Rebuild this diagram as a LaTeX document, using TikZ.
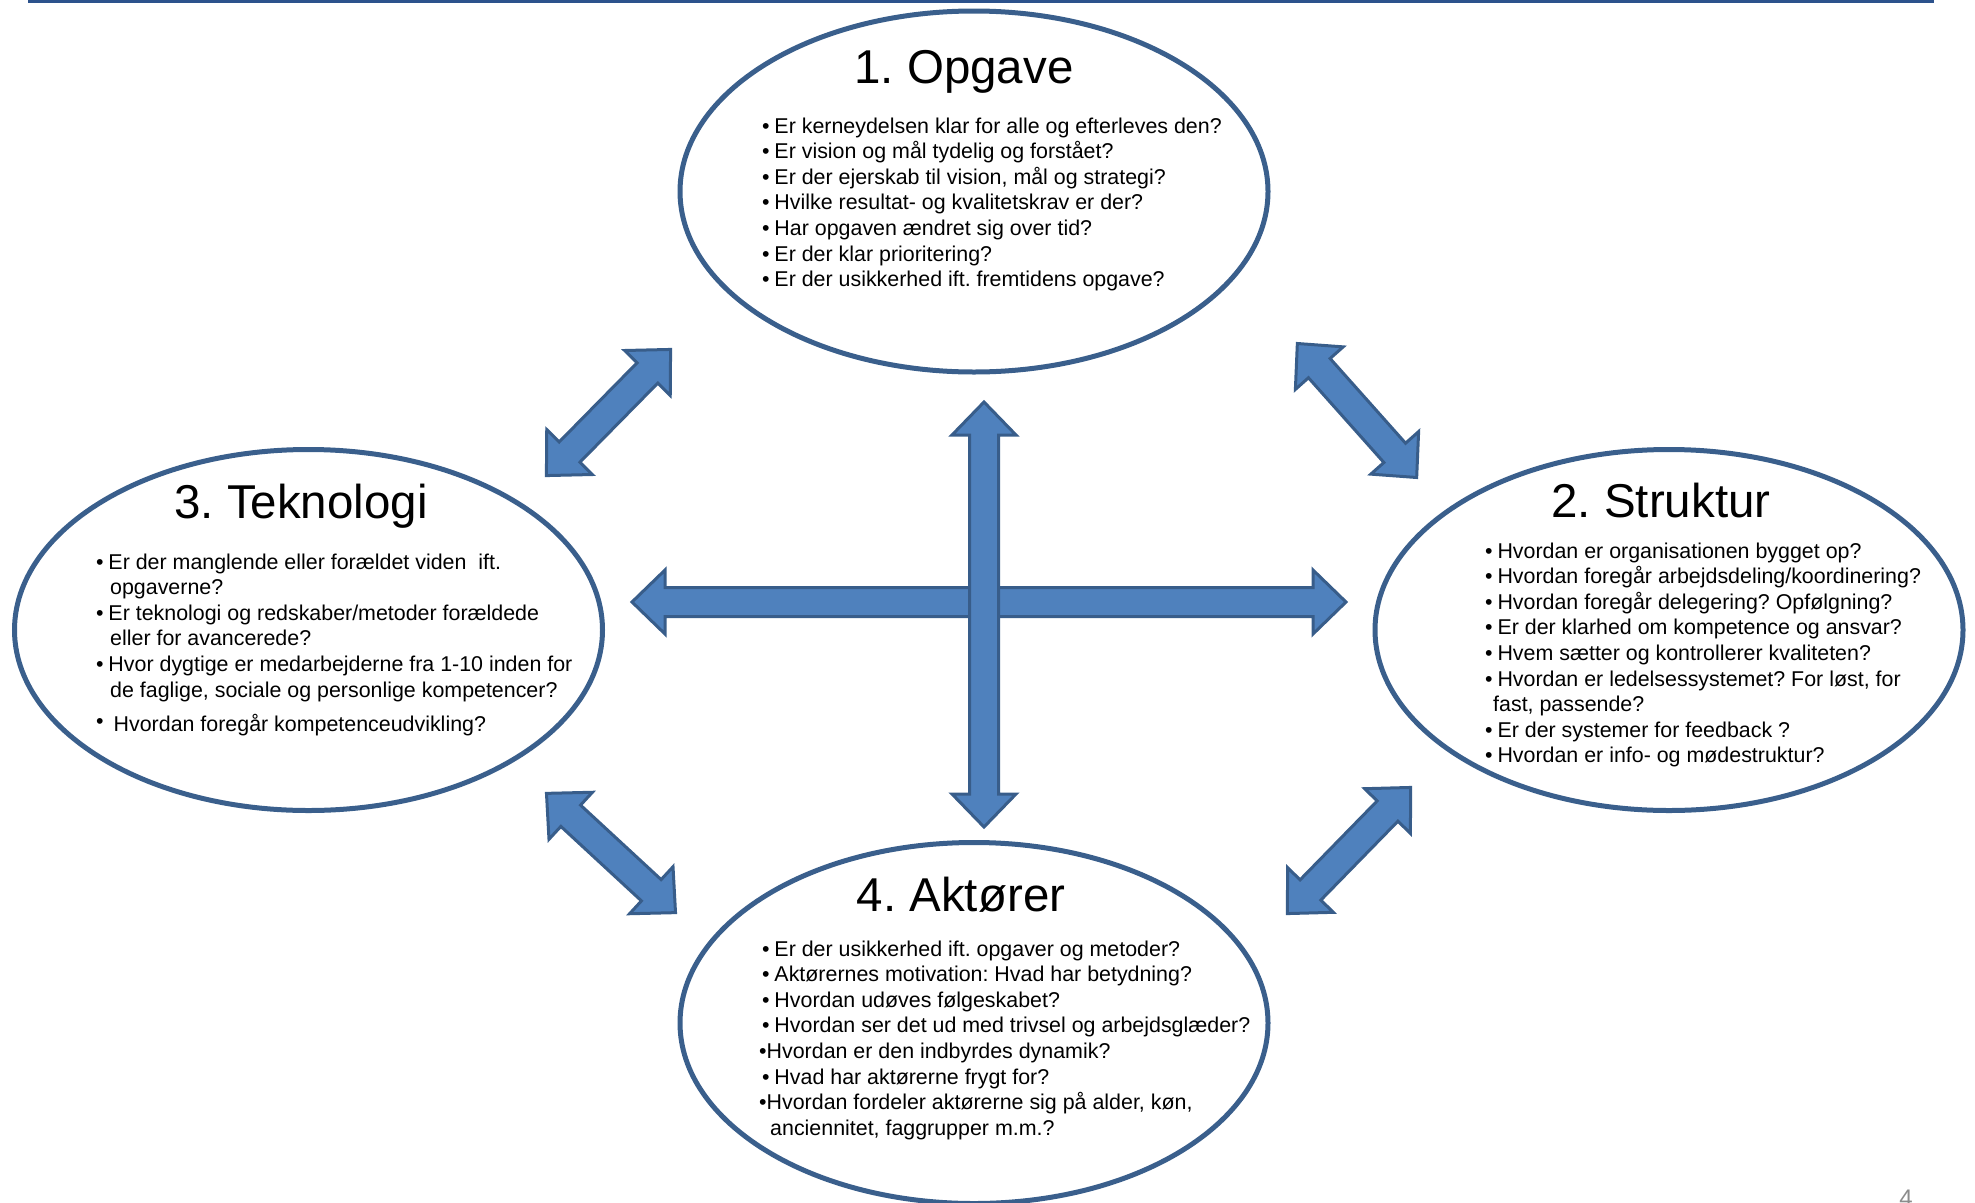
\documentclass[tikz,border=0pt]{standalone}
\usepackage{fontspec}
\setmainfont{Liberation Sans}
\frenchspacing
\usepackage{tikz}
\usetikzlibrary{shapes.geometric, calc}

\definecolor{ringblue}{RGB}{58,95,140}
\definecolor{arrowfill}{RGB}{79,129,189}
\definecolor{arrowedge}{RGB}{56,93,138}
\definecolor{rulenavy}{RGB}{44,82,140}

\newcommand{\qbox}[1]{\begin{minipage}[t]{600pt}\raggedright #1\end{minipage}}
\newcommand{\bul}{\textbullet\hspace{4.8pt}}

\newcommand{\blockarrow}[2]{%
  \filldraw[blockarr] let \p1=(#1), \p2=(#2),
      \n1={atan2(\y2-\y1,\x2-\x1)}, \n2={veclen(\x2-\x1,\y2-\y1)} in
    [shift={(\p1)}, rotate=\n1]
    (2pt,0pt) -- (35pt,32pt) -- (35pt,14.5pt) -- ({\n2-35pt},14.5pt) -- ({\n2-35pt},32pt)
    -- ({\n2-2pt},0pt) -- ({\n2-35pt},-32pt) -- ({\n2-35pt},-14.5pt) -- (35pt,-14.5pt)
    -- (35pt,-32pt) -- cycle;}

\begin{document}
\begin{tikzpicture}[x=1pt, y=-1pt, line join=miter,
    ring/.style={ellipse, draw=ringblue, line width=5pt, minimum width=588pt, minimum height=361pt, inner sep=0pt},
    headline/.style={font=\fontsize{47.5pt}{56pt}\selectfont, inner sep=0pt, anchor=base},
    qlist/.style={font=\fontsize{21.4pt}{25.6pt}\selectfont, inner sep=0pt, anchor=base west},
    blockarr/.style={fill=arrowfill, draw=arrowedge, line width=3pt},
    pagenum/.style={font=\fontsize{24pt}{28pt}\selectfont, text=black!45, inner sep=0pt, anchor=north}]

    \useasboundingbox (0,0) rectangle (1975,1202);

    \draw[rulenavy, line width=3pt] (28,1.5) -- (1934,1.5);

    \node[ring] (opg) at (974,191.5) {};
    \node[ring] (str) at (1669,630) {};
    \node[ring] (tek) at (308.5,630) {};
    \node[ring] (akt) at (974,1023) {};

    \node[headline] (opgtitle) at (964,83) {1. Opgave};
    \node[headline] (strtitle) at (1661,517) {2. Struktur};
    \node[headline] (tektitle) at (301,518) {3. Teknologi};
    \node[headline] (akttitle) at (961,911) {4. Aktører};

    \node[qlist] (opgtext) at (762,133) {\qbox{%
        \bul Er kerneydelsen klar for alle og efterleves den?\\
        \bul Er vision og mål tydelig og forstået?\\
        \bul Er der ejerskab til vision, mål og strategi?\\
        \bul Hvilke resultat- og kvalitetskrav er der?\\
        \bul Har opgaven ændret sig over tid?\\
        \bul Er der klar prioritering?\\
        \bul Er der usikkerhed ift. fremtidens opgave?}};

    \node[qlist] (strtext) at (1485,558) {\qbox{%
        \bul Hvordan er organisationen bygget op?\\
        \bul Hvordan foregår arbejdsdeling/koordinering?\\
        \bul Hvordan foregår delegering? Opfølgning?\\
        \bul Er der klarhed om kompetence og ansvar?\\
        \bul Hvem sætter og kontrollerer kvaliteten?\\
        \bul Hvordan er ledelsessystemet? For løst, for\\
        \hspace*{8pt}fast, passende?\\
        \bul Er der systemer for feedback ?\\
        \bul Hvordan er info- og mødestruktur?}};

    \node[qlist] (tektext) at (96,569) {\qbox{%
        \bul Er der manglende eller forældet viden\ \ ift.\\
        \hspace*{14pt}opgaverne?\\
        \bul Er teknologi og redskaber/metoder forældede\\
        \hspace*{14pt}eller for avancerede?\\
        \bul Hvor dygtige er medarbejderne fra 1-10 inden for\\
        \hspace*{14pt}de faglige, sociale og personlige kompetencer?\\[9pt]
        \raisebox{3pt}{\textbullet}\hspace{10pt}Hvordan foregår kompetenceudvikling?}};

    \node[qlist] (akttext) at (762,956) {\qbox{%
        \bul Er der usikkerhed ift. opgaver og metoder?\\
        \bul Aktørernes motivation: Hvad har betydning?\\
        \bul Hvordan udøves følgeskabet?\\
        \bul Hvordan ser det ud med trivsel og arbejdsglæder?\\
        \hspace*{-3pt}\textbullet Hvordan er den indbyrdes dynamik?\\
        \bul Hvad har aktørerne frygt for?\\
        \hspace*{-3pt}\textbullet Hvordan fordeler aktørerne sig på alder, køn,\\
        \hspace*{8pt}anciennitet, faggrupper m.m.?}};

    \coordinate (tlA) at (545,477);
    \coordinate (tlB) at (672,348);
    \coordinate (trA) at (1296,342);
    \coordinate (trB) at (1418,479);
    \coordinate (blA) at (545,792);
    \coordinate (blB) at (677,914);
    \coordinate (brA) at (1286,915);
    \coordinate (brB) at (1412,786);
    \coordinate (hA) at (630,602);
    \coordinate (hB) at (1348,602);
    \coordinate (vA) at (984,400);
    \coordinate (vB) at (984,829);

    \blockarrow{tlA}{tlB}
    \blockarrow{trA}{trB}
    \blockarrow{blA}{blB}
    \blockarrow{brA}{brB}
    \blockarrow{hA}{hB}
    \blockarrow{vA}{vB}

    \node[pagenum] (pgno) at (1906,1190) {4};
\end{tikzpicture}
\end{document}
